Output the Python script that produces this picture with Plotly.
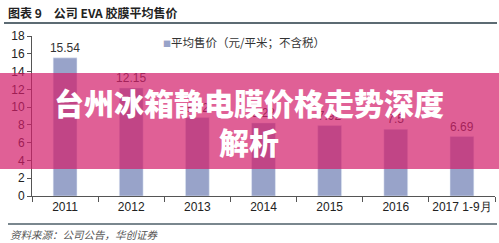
import plotly.graph_objects as go

categories = ["2011", "2012", "2013", "2014", "2015", "2016", "2017 1-9月"]
prices = [15.54, 12.15, 8.82, 8.22, 7.92, 7.5, 6.69]
price_labels = ["15.54", "12.15", "8.82", "8.22", "7.92", "7.5", "6.69"]
y_ticks = [0, 2, 4, 6, 8, 10, 12, 14, 16, 18]

BAR = "#98A3C9"
W, H = 499, 243
L, R, T, B = 32, 4, 36, 47
PW, PH = W - L - R, H - T - B


def px(x):
    return (x - L) / PW


def py(y):
    return (H - B - y) / PH


fig = go.Figure()
fig.add_trace(go.Bar(
    x=categories, y=prices, marker_color=BAR, width=0.36,
    text=price_labels, textposition="outside", cliponaxis=False,
    constraintext="none",
    textfont=dict(family="Liberation Sans", size=12, color="#333333"),
    showlegend=False,
))

fig.update_layout(
    width=W, height=H,
    margin=dict(l=L, r=R, t=T, b=B),
    paper_bgcolor="white", plot_bgcolor="white",
    font=dict(family="Liberation Sans", size=12, color="#333333"),
    xaxis=dict(
        type="category", showline=True, linecolor="#555555", linewidth=1,
        ticks="outside", ticklen=5, tickcolor="#555555", tickson="boundaries",
        showgrid=False, tickfont=dict(size=12, color="#222222"), tickangle=0,
        range=[-0.5, 6.5],
    ),
    yaxis=dict(
        range=[0, 18], tickvals=y_ticks, showline=True, linecolor="#555555",
        linewidth=1, ticks="outside", ticklen=4, tickcolor="#555555",
        showgrid=False, zeroline=False, tickfont=dict(size=12, color="#222222"),
    ),
    shapes=[
        dict(type="line", xref="paper", yref="paper", x0=px(4), x1=px(497),
             y0=py(23), y1=py(23), line=dict(color="#5C6B73", width=2)),
        dict(type="line", xref="paper", yref="paper", x0=px(8), x1=px(497),
             y0=py(224), y1=py(224), line=dict(color="#7A878E", width=2)),
        dict(type="rect", xref="paper", yref="paper", x0=px(-2), x1=px(W + 2),
             y0=py(169), y1=py(73), line=dict(width=0),
             fillcolor="rgba(211,28,105,0.70)", layer="above"),
    ],
    annotations=[
        dict(xref="paper", yref="paper", x=px(6), y=py(13), xanchor="left",
             yanchor="middle", showarrow=False,
             text="<b>图表 9　公司 EVA 胶膜平均售价</b>",
             font=dict(family="Noto Sans CJK SC", size=12, color="#222222")),
        dict(xref="paper", yref="paper", x=px(161), y=py(42), xanchor="left",
             yanchor="middle", showarrow=False,
             text=f"<span style='color:{BAR};font-size:8px'>■</span>平均售价（元/平米；不含税）",
             font=dict(family="Noto Sans CJK SC", size=11.5, color="#333333")),
        dict(xref="paper", yref="paper", x=px(8), y=py(234), xanchor="left",
             yanchor="middle", showarrow=False,
             text="<i>资料来源：公司公告，华创证券</i>",
             font=dict(family="Noto Sans CJK SC", size=10.5, color="#555555")),
        dict(xref="paper", yref="paper", x=px(249), y=py(102), xanchor="center",
             yanchor="middle", showarrow=False,
             text="台州冰箱静电膜价格走势深度",
             font=dict(family="Noto Sans CJK SC", size=30, color="white", weight=900)),
        dict(xref="paper", yref="paper", x=px(249), y=py(141), xanchor="center",
             yanchor="middle", showarrow=False,
             text="解析",
             font=dict(family="Noto Sans CJK SC", size=30, color="white", weight=900)),
    ],
)

fig.write_html("out.html")
